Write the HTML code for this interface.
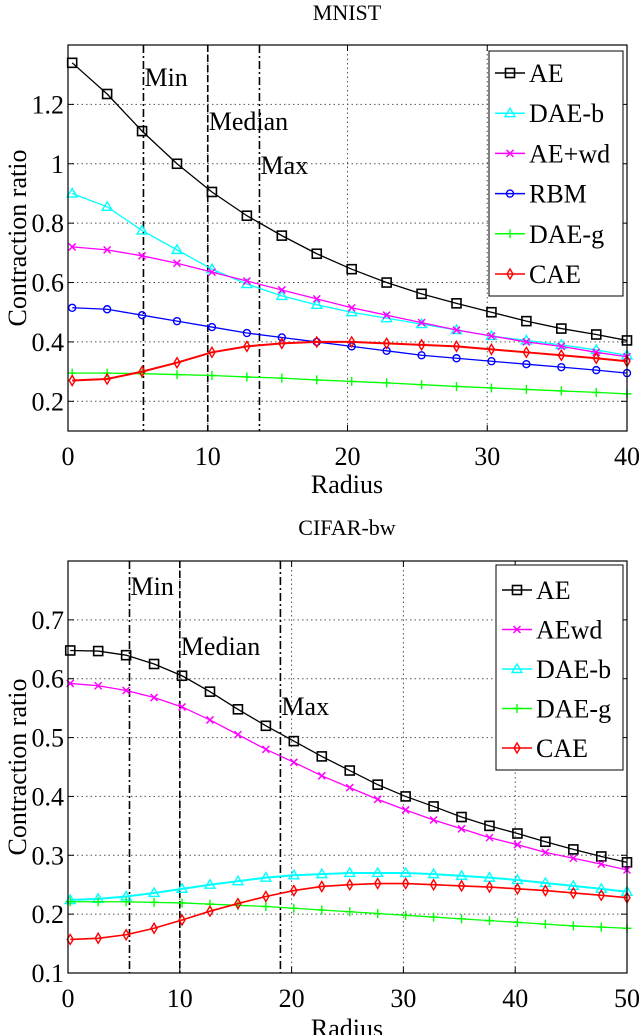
<!DOCTYPE html>
<html><head><meta charset="utf-8"><style>
html,body{margin:0;padding:0;background:#fff;}
svg{display:block;}
text{font-family:"Liberation Serif","DejaVu Serif",serif;}
</style></head><body>
<svg id="chart" width="640" height="1035" viewBox="0 0 640 1035"></svg>
<script>
// ---- data: MNIST ----
const mnistX = [0.3,2.8,5.3,7.8,10.3,12.8,15.3,17.8,20.3,22.8,25.3,27.8,30.3,32.8,35.3,37.8,40];
const mnistAE = [1.34,1.235,1.11,1.0,0.905,0.825,0.758,0.697,0.645,0.6,0.562,0.53,0.5,0.47,0.445,0.425,0.405];
const mnistDAEb = [0.9,0.855,0.775,0.71,0.645,0.595,0.555,0.525,0.5,0.48,0.46,0.44,0.42,0.405,0.39,0.373,0.355];
const mnistAEwd = [0.72,0.71,0.69,0.665,0.635,0.605,0.575,0.545,0.515,0.49,0.465,0.44,0.42,0.4,0.385,0.365,0.35];
const mnistRBM = [0.515,0.51,0.49,0.47,0.45,0.43,0.415,0.4,0.385,0.37,0.355,0.345,0.335,0.325,0.315,0.305,0.295];
const mnistDAEg = [0.295,0.295,0.293,0.29,0.287,0.282,0.278,0.272,0.267,0.262,0.256,0.25,0.245,0.24,0.235,0.23,0.225];
const mnistCAE = [0.27,0.275,0.3,0.33,0.365,0.385,0.395,0.4,0.4,0.395,0.39,0.385,0.375,0.365,0.355,0.345,0.335];
const mnistVlines = [5.4,10.0,13.7];
const mnistXTicks = [0,10,20,30,40];
const mnistYTicks = [0.2,0.4,0.6,0.8,1,1.2];
// ---- data: CIFAR-bw ----
const cifarX = [0.2,2.7,5.2,7.7,10.2,12.7,15.2,17.7,20.2,22.7,25.2,27.7,30.2,32.7,35.2,37.7,40.2,42.7,45.2,47.7,50];
const cifarAE = [0.648,0.647,0.64,0.625,0.605,0.578,0.548,0.52,0.494,0.468,0.444,0.42,0.4,0.383,0.365,0.35,0.337,0.323,0.31,0.298,0.288];
const cifarAEwd = [0.592,0.588,0.58,0.568,0.552,0.53,0.505,0.48,0.458,0.435,0.415,0.395,0.377,0.36,0.345,0.33,0.318,0.305,0.295,0.285,0.275];
const cifarDAEb = [0.224,0.226,0.23,0.236,0.243,0.25,0.256,0.262,0.266,0.268,0.27,0.27,0.27,0.268,0.265,0.262,0.258,0.253,0.248,0.243,0.238];
const cifarDAEg = [0.221,0.221,0.221,0.22,0.219,0.217,0.215,0.213,0.21,0.207,0.204,0.201,0.198,0.195,0.192,0.189,0.186,0.183,0.18,0.178,0.176];
const cifarCAE = [0.157,0.159,0.165,0.176,0.19,0.205,0.218,0.23,0.24,0.247,0.25,0.252,0.252,0.25,0.248,0.246,0.243,0.24,0.236,0.232,0.228];
const cifarVlines = [5.5,10.0,19.0];
const cifarXTicks = [0,10,20,30,40,50];
const cifarYTicks = [0.1,0.2,0.3,0.4,0.5,0.6,0.7];

const NS="http://www.w3.org/2000/svg";
const svg=document.getElementById('chart');
function mk(tag,attrs,parent){const e=document.createElementNS(NS,tag);for(const k in attrs)e.setAttribute(k,attrs[k]);(parent||svg).appendChild(e);return e;}
function txt(s,x,y,anchor,parent,size){const t=mk('text',{x:x,y:y,'text-anchor':anchor||'middle','font-size':size||26,fill:'#000'},parent);t.textContent=s;return t;}

function marker(g,kind,x,y,c){
  let e;
  if(kind==='sq') e=mk('rect',{x:x-4.5,y:y-4.5,width:9,height:9,fill:'none',stroke:c,'stroke-width':1.6},g);
  else if(kind==='tri') e=mk('polygon',{points:`${x},${y-5} ${x-5},${y+3.5} ${x+5},${y+3.5}`,fill:'none',stroke:c,'stroke-width':1.4},g);
  else if(kind==='x') e=mk('path',{d:`M${x-3.5} ${y-3.5}L${x+3.5} ${y+3.5}M${x-3.5} ${y+3.5}L${x+3.5} ${y-3.5}`,stroke:c,'stroke-width':1.5},g);
  else if(kind==='o') e=mk('circle',{cx:x,cy:y,r:3.5,fill:'none',stroke:c,'stroke-width':1.4},g);
  else if(kind==='+') e=mk('path',{d:`M${x-4.5} ${y}L${x+4.5} ${y}M${x} ${y-4.5}L${x} ${y+4.5}`,stroke:c,'stroke-width':1.4},g);
  else if(kind==='d') e=mk('polygon',{points:`${x},${y-5} ${x+3},${y} ${x},${y+5} ${x-3},${y}`,fill:'none',stroke:c,'stroke-width':1.4},g);
  
  
}

function drawChart(cfg){
  const g=mk('g',{});
  
  
  const L=68,R=627,T=cfg.top,B=cfg.bottom;
  const sx=v=>L+(v-cfg.xmin)/(cfg.xmax-cfg.xmin)*(R-L);
  const sy=v=>B-(v-cfg.ymin)/(cfg.ymax-cfg.ymin)*(B-T);
  const title=txt(cfg.title,347,cfg.titleY,'middle',g,22);
  
  
  cfg.xticks.forEach(v=>{
    if(v>cfg.xmin&&v<cfg.xmax){const l=mk('line',{x1:sx(v),x2:sx(v),y1:T,y2:B,stroke:'#555','stroke-width':1,'stroke-dasharray':'1.5,3'},g);}
    mk('line',{x1:sx(v),x2:sx(v),y1:B,y2:B-6,stroke:'#000'},g);
    mk('line',{x1:sx(v),x2:sx(v),y1:T,y2:T+6,stroke:'#000'},g);
    const t=txt(String(v),sx(v),cfg.xtickY,'middle',g);
    
  });
  cfg.yticks.forEach(v=>{
    if(v>cfg.ymin&&v<cfg.ymax){const l=mk('line',{x1:L,x2:R,y1:sy(v),y2:sy(v),stroke:'#555','stroke-width':1,'stroke-dasharray':'1.5,3'},g);}
    mk('line',{x1:L,x2:L+6,y1:sy(v),y2:sy(v),stroke:'#000'},g);
    mk('line',{x1:R,x2:R-6,y1:sy(v),y2:sy(v),stroke:'#000'},g);
    const t=txt(String(v),L-4,sy(v)+9,'end',g);
    
  });
  cfg.vlines.forEach((v,i)=>{
    const l=mk('line',{x1:sx(v),x2:sx(v),y1:T,y2:B,stroke:'#000','stroke-width':1.6,'stroke-dasharray':i===1?'7,3':'8,3,2,3'},g);
    
    const t=txt(cfg.vlabels[i],sx(v)+1,cfg.vlabelY[i],'start',g);
    
  });
  cfg.series.forEach(s=>{
    const sg=mk('g',{},g);
    
    
    const pts=s.data.map((v,i)=>sx(cfg.x[i])+','+sy(v)).join(' ');
    mk('polyline',{points:pts,fill:'none',stroke:s.color,'stroke-width':s.w||1.3},sg);
    s.data.forEach((v,i)=>marker(sg,s.m,sx(cfg.x[i]),sy(v),s.color));
  });
  const fr=mk('rect',{x:L,y:T,width:R-L,height:B-T,fill:'none',stroke:'#000','stroke-width':1.2},g);
  
  const lg=mk('g',{},g);
  
  const lb=cfg.legend;
  mk('rect',{x:lb.x,y:lb.y,width:lb.w,height:lb.h,fill:'#fff',stroke:'#000','stroke-width':1},lg);
  cfg.series.forEach((s,i)=>{
    const y=lb.y0+i*lb.dy;
    const e=mk('g',{},lg);
    
    
    mk('line',{x1:lb.x+6,x2:lb.x+36,y1:y,y2:y,stroke:s.color,'stroke-width':1.5},e);
    marker(e,s.m,lb.x+21,y,s.color);
    txt(s.label,lb.x+40,y+9,'start',e);
  });
  const xl=txt('Radius',347,cfg.xlabelY,'middle',g);
  
  const yc=(T+B)/2;
  const yl=txt('Contraction ratio',26,yc,'middle',g);
  yl.setAttribute('transform',`rotate(-90 26 ${yc})`);
  
}

drawChart({name:'mnist-chart',title:'MNIST',titleY:20,top:45,bottom:431,xmin:0,xmax:40,ymin:0.1,ymax:1.4,
  x:mnistX,xticks:mnistXTicks,yticks:mnistYTicks,xtickY:465,xlabelY:493,
  vlines:mnistVlines,vlabels:['Min','Median','Max'],vlabelY:[86,130,174],
  legend:{x:489,y:51,w:134,h:245,y0:73,dy:40.2},
  series:[
    {label:'AE',data:mnistAE,color:'#000',m:'sq'},
    {label:'DAE-b',data:mnistDAEb,color:'#00ffff',m:'tri'},
    {label:'AE+wd',data:mnistAEwd,color:'#ff00ff',m:'x'},
    {label:'RBM',data:mnistRBM,color:'#0000ff',m:'o'},
    {label:'DAE-g',data:mnistDAEg,color:'#00ff00',m:'+'},
    {label:'CAE',data:mnistCAE,color:'#ff0000',m:'d',w:2}
  ]});
drawChart({name:'cifar-chart',title:'CIFAR-bw',titleY:535,top:561,bottom:973,xmin:0,xmax:50,ymin:0.1,ymax:0.8,
  x:cifarX,xticks:cifarXTicks,yticks:cifarYTicks,xtickY:1007,xlabelY:1037,
  vlines:cifarVlines,vlabels:['Min','Median','Max'],vlabelY:[595,655,715],
  legend:{x:496,y:565,w:127,h:205,y0:590,dy:39.5},
  series:[
    {label:'AE',data:cifarAE,color:'#000',m:'sq'},
    {label:'AEwd',data:cifarAEwd,color:'#ff00ff',m:'x'},
    {label:'DAE-b',data:cifarDAEb,color:'#00ffff',m:'tri',w:2},
    {label:'DAE-g',data:cifarDAEg,color:'#00ff00',m:'+'},
    {label:'CAE',data:cifarCAE,color:'#ff0000',m:'d',w:1.6}
  ]});
</script>
</body></html>
